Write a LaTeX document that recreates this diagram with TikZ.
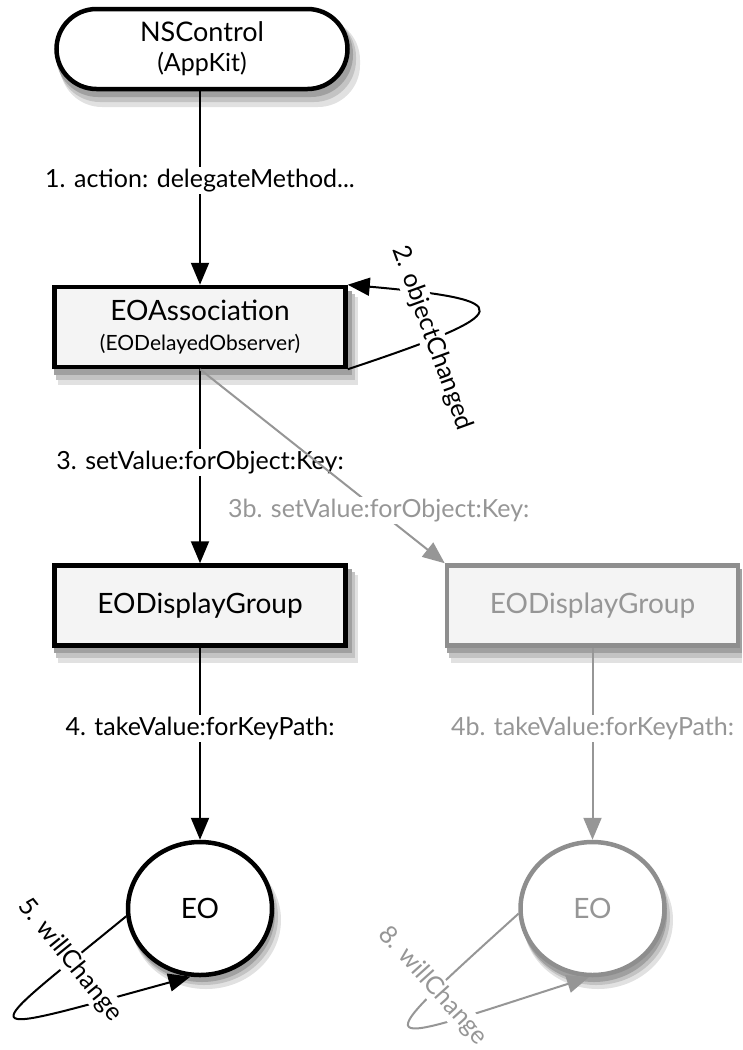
\documentclass[tikz,border=0pt]{standalone}
\usepackage{fontspec}
\setmainfont{Lato}
\usepackage{xcolor}
\usepackage{tikz}
\usetikzlibrary{positioning, shapes, shapes.geometric, arrows.meta, calc}
\definecolor{boxfill}{RGB}{244,244,244}
\definecolor{fadegray}{RGB}{150,150,150}
\definecolor{fadeline}{RGB}{142,142,142}
\definecolor{shadowfar}{RGB}{225,225,225}
\definecolor{shadowmid}{RGB}{195,195,195}
\definecolor{shadownear}{RGB}{160,160,160}
\newcommand{\fsz}[2]{\fontsize{#1}{#2}\selectfont}

\begin{document}
\begin{tikzpicture}[x=1pt, y=-1pt,
	box/.style={draw, line width=4.5pt, fill=boxfill, minimum width=291pt, minimum height=80pt, inner sep=0pt, align=center, font=\fsz{28}{30}},
	eonode/.style={ellipse, draw, line width=4.5pt, fill=white, minimum width=144pt, minimum height=133pt, inner sep=0pt, font=\fsz{28}{30}},
	ghost/.style={draw=fadeline, text=fadegray},
	msg/.style={fill=white, font=\fsz{25}{28}, inner sep=2pt},
	call/.style={line width=2pt, -{Triangle[length=22pt, width=18pt]}},
	ghostcall/.style={call, draw=fadegray}]
			\useasboundingbox (0,0) rectangle (742,1050);
			
			%%			soft shadows, drawn first so the shapes sit on them
			\fill[shadowfar] (58,297) rectangle (358,385);
			\fill[shadowmid] (56,294) rectangle (355,380);
			\fill[shadownear] (54,291) rectangle (352,375);
			\fill[shadowfar] (58,575) rectangle (358,663);
			\fill[shadowmid] (56,572) rectangle (355,658);
			\fill[shadownear] (54,569) rectangle (352,653);
			\fill[shadowfar] (451,575) rectangle (742,663);
			\fill[shadowmid] (449,572) rectangle (742,658);
			\fill[shadownear] (447,569) rectangle (742,653);
			\fill[shadowfar, rounded corners=42pt] (60,18) rectangle (360,107);
			\fill[shadowmid, rounded corners=42pt] (58,15) rectangle (356,102);
			\fill[shadownear, rounded corners=42pt] (56,12) rectangle (353,97);
			\fill[shadowfar] (206,920) ellipse (75 and 69);
			\fill[shadowmid] (204,917) ellipse (74 and 68);
			\fill[shadownear] (202,914) ellipse (73 and 68);
			\fill[shadowfar] (598,920) ellipse (75 and 69);
			\fill[shadowmid] (596,917) ellipse (74 and 68);
			\fill[shadownear] (594,914) ellipse (73 and 68);
			
			\node[box, rounded corners=40pt, fill=white, font=\fsz{27}{30}] (nsc) at (202,49) {NSControl\\{\fsz{25}{30}(AppKit)}};
			\node[box] (assoc) at (200,327) {EOAssociation\\{\fsz{21}{30}(EODelayedObserver)}};
			\node[box] (dg) at (200,605.5) {EODisplayGroup};
			\node[box, ghost, right=97pt of dg] (dg2) {EODisplayGroup};
			\node[eonode, below=192pt of dg] (eo) {EO};
			\node[eonode, ghost, below=192pt of dg2] (eo2) {EO};
			
			\draw[call] (nsc.south -| assoc.north) -- node[msg, pos=.46] (m1) {1. action: delegateMethod...} (assoc.north);
			\draw[call] (assoc.south east) .. controls (520,312) and (520,300) .. (assoc.north east);
			\node[msg, rotate=-70] (m2) at (432,338) {2. objectChanged};
			\draw[call] (assoc) -- node[msg, pos=.48] (m3) {3. setValue:forObject:Key:} (dg);
			\draw[call] (dg) -- node[msg, pos=.42] (m4) {4. takeValue:forKeyPath:} (eo);
			\draw[call] (eo.186) .. controls (-25,1040) and (-37,1039) .. (eo.262);
			\node[msg, rotate=-51] (m5) at (70,960) {5. willChange};
			
			%%			second display group, drawn in gray
			\draw[ghostcall] (assoc.south) -- node[msg, text=fadegray, pos=.73] (m3b) {3b. setValue:forObject:Key:} (dg2.north west);
			\draw[ghostcall] (dg2) -- node[msg, text=fadegray, pos=.42] (m4b) {4b. takeValue:forKeyPath:} (eo2);
			\draw[ghostcall] (eo2.184) .. controls (358,1059) and (370,1047) .. (eo2.267);
			\node[msg, rotate=-48, text=fadegray] (m8) at (433,986) {8. willChange};
			
			\end{tikzpicture}
\end{document}
